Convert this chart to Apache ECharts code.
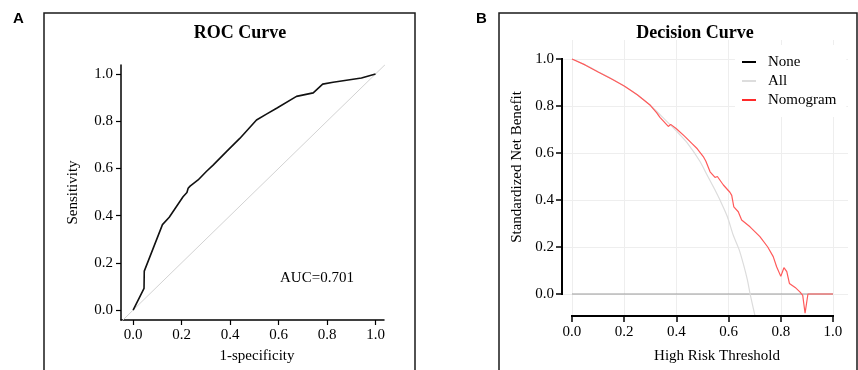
<!DOCTYPE html>
<html>
<head>
<meta charset="utf-8">
<script src="https://cdn.jsdelivr.net/npm/echarts@6/dist/echarts.min.js"></script>
<style>
  html, body { margin: 0; padding: 0; background: #fff; }
  #main { width: 858px; height: 370px; }
</style>
</head>
<body>
<div id="main"></div>
<script>
var tickValues = [0, 0.2, 0.4, 0.6, 0.8, 1.0];

// panel A - ROC
var rocFpr = [0, 0.045, 0.046, 0.121, 0.149, 0.206, 0.222, 0.227, 0.235, 0.268, 0.303, 0.33, 0.385, 0.44, 0.509, 0.55, 0.592, 0.674, 0.743, 0.782, 0.825, 0.942, 1.0];
var rocTpr = [0, 0.092, 0.165, 0.362, 0.393, 0.48, 0.498, 0.516, 0.525, 0.551, 0.588, 0.614, 0.671, 0.727, 0.805, 0.83, 0.855, 0.905, 0.92, 0.957, 0.965, 0.983, 1.0];
var diagonalRef = [-0.1, 1.1];
var aucText = 'AUC=0.701';

// panel B - decision curve
var dcaThreshold = [0, 0.05, 0.1, 0.15, 0.2, 0.25, 0.3, 0.324, 0.337, 0.369, 0.378, 0.40, 0.43, 0.46, 0.48, 0.503, 0.513, 0.529, 0.548, 0.557, 0.58, 0.605, 0.612, 0.62, 0.637, 0.65, 0.682, 0.72, 0.75, 0.771, 0.784, 0.8, 0.812, 0.823, 0.833, 0.855, 0.874, 0.884, 0.893, 0.904, 0.95, 1.0];
var dcaNomogram = [1.0, 0.975, 0.945, 0.916, 0.885, 0.848, 0.803, 0.772, 0.752, 0.713, 0.722, 0.703, 0.673, 0.64, 0.618, 0.585, 0.565, 0.52, 0.496, 0.5, 0.464, 0.433, 0.42, 0.371, 0.35, 0.315, 0.286, 0.244, 0.2, 0.159, 0.116, 0.075, 0.112, 0.095, 0.045, 0.028, 0.008, -0.006, -0.082, 0, 0, 0];
var dcaAllThreshold = [0, 0.05, 0.1, 0.15, 0.2, 0.25, 0.3, 0.34, 0.38, 0.41, 0.44, 0.49, 0.516, 0.548, 0.567, 0.595, 0.618, 0.64, 0.656, 0.672, 0.682, 0.699, 0.703];
var dcaAll = [1.0, 0.975, 0.946, 0.917, 0.885, 0.848, 0.803, 0.76, 0.716, 0.682, 0.645, 0.565, 0.51, 0.443, 0.4, 0.33, 0.25, 0.19, 0.13, 0.06, 0.003, -0.082, -0.1];
var dcaNoneThreshold = [0, 1];
var dcaNone = [0, 0];

var serif = '"Liberation Serif", "Times New Roman", serif';

function pairs(xs, ys) {
  return xs.map(function (x, i) { return [x, ys[i]]; });
}

function valueAxis(grid, min, max, extra) {
  var ax = {
    type: 'value',
    gridIndex: grid,
    min: min,
    max: max,
    axisLine: { show: true, onZero: false, lineStyle: { color: '#000', width: 1.5 } },
    axisTick: { show: true, length: 5, customValues: tickValues, lineStyle: { color: '#000', width: 1.2 } },
    axisLabel: {
      customValues: tickValues,
      formatter: function (v) { return v.toFixed(1); },
      fontFamily: serif, fontSize: 15, color: '#000', margin: 8
    },
    splitLine: { show: false },
    nameLocation: 'middle',
    nameTextStyle: { fontFamily: serif, fontSize: 15, color: '#000' }
  };
  for (var k in extra) ax[k] = extra[k];
  return ax;
}

var chart = echarts.init(document.getElementById('main'), null, { renderer: 'canvas' });

var xMinB = -0.0383, yMinB = -0.0936;

var option = {
  animation: false,
  backgroundColor: '#fff',
  textStyle: { fontFamily: serif },
  grid: [
    { left: 121, top: 65, width: 263, height: 255, outerBoundsMode: 'none' },
    { left: 562, top: 40, width: 286, height: 276, outerBoundsMode: 'none' }
  ],
  xAxis: [
    valueAxis(0, -0.05, 1.035, {
      name: '1-specificity', nameGap: 29,
      nameTextStyle: { fontFamily: serif, fontSize: 15, color: '#000', padding: [0, 0, 0, 9] }
    }),
    valueAxis(1, xMinB, 1.0575, {
      name: 'High Risk Threshold', nameGap: 33,
      nameTextStyle: { fontFamily: serif, fontSize: 15, color: '#000', padding: [0, 0, 0, 24] },
      axisLine: { show: false, onZero: false },
      axisTick: { show: true, length: 6, customValues: tickValues, lineStyle: { color: '#000', width: 1.5 } },
      axisLabel: {
        customValues: tickValues,
        formatter: function (v) { return v.toFixed(1); },
        fontFamily: serif, fontSize: 15, color: '#000', margin: 9
      },
      splitLine: { show: true, lineStyle: { color: '#eeeeee', width: 1 } }
    })
  ],
  yAxis: [
    valueAxis(0, -0.042, 1.038, {
      name: 'Sensitivity', nameGap: 40, nameRotate: 90
    }),
    valueAxis(1, yMinB, 1.081, {
      name: 'Standardized Net Benefit', nameGap: 37, nameRotate: 90,
      nameTextStyle: { fontFamily: serif, fontSize: 15, color: '#000', padding: [0, 0, 0, 22] },
      axisLine: { show: false, onZero: false },
      axisTick: { show: true, length: 6, customValues: tickValues, lineStyle: { color: '#000', width: 1.5 } },
      splitLine: { show: true, lineStyle: { color: '#eeeeee', width: 1 } }
    })
  ],
  legend: {
    data: ['None', 'All', 'Nomogram'],
    orient: 'vertical',
    left: 735, top: 45,
    padding: [9, 10, 9, 7],
    backgroundColor: '#fff',
    icon: 'rect',
    itemWidth: 14, itemHeight: 2, itemGap: 3,
    textStyle: { fontFamily: serif, fontSize: 15, color: '#000', lineHeight: 16, padding: [0, 0, 0, 7] }
  },
  series: [
    {
      name: 'diag', type: 'line', xAxisIndex: 0, yAxisIndex: 0,
      data: pairs(diagonalRef, diagonalRef), symbol: 'none', silent: true,
      lineStyle: { color: '#d2d2d2', width: 1 }, z: 1
    },
    {
      name: 'ROC', type: 'line', xAxisIndex: 0, yAxisIndex: 0,
      data: pairs(rocFpr, rocTpr), symbol: 'none',
      color: '#111', lineStyle: { color: '#111', width: 1.6 }, z: 3
    },
    {
      name: 'None', type: 'line', xAxisIndex: 1, yAxisIndex: 1,
      data: pairs(dcaNoneThreshold, dcaNone), symbol: 'none',
      color: '#000', lineStyle: { color: '#9a9a9a', width: 1 }, z: 2
    },
    {
      name: 'All', type: 'line', xAxisIndex: 1, yAxisIndex: 1,
      data: pairs(dcaAllThreshold, dcaAll), symbol: 'none', smooth: 0.3,
      color: '#dddddd', lineStyle: { color: '#dcdcdc', width: 1.2 }, z: 2
    },
    {
      name: 'Nomogram', type: 'line', xAxisIndex: 1, yAxisIndex: 1,
      data: pairs(dcaThreshold, dcaNomogram), symbol: 'none',
      color: '#ff2a2a', lineStyle: { color: '#ff5a5a', width: 1.2 }, z: 3
    }
  ]
};

chart.setOption(option);

// frames, labels, titles, and the bracket axes of panel B
var pOrigin = chart.convertToPixel({ gridIndex: 1 }, [0, 0]);
var pOne = chart.convertToPixel({ gridIndex: 1 }, [1, 1]);
var pMin = chart.convertToPixel({ gridIndex: 1 }, [xMinB, yMinB]);

function txt(x, y, s, font, align) {
  return {
    type: 'text', x: x, y: y, silent: true,
    style: { text: s, font: font, fill: '#000', textAlign: align || 'center', textVerticalAlign: 'middle', align: align || 'center', verticalAlign: 'middle' }
  };
}

chart.setOption({
  graphic: [
    { type: 'rect', silent: true, shape: { x: 44, y: 13, width: 371, height: 400 }, style: { fill: null, stroke: '#1a1a1a', lineWidth: 1.5 } },
    { type: 'rect', silent: true, shape: { x: 499, y: 13, width: 358, height: 400 }, style: { fill: null, stroke: '#1a1a1a', lineWidth: 1.5 } },
    txt(18.5, 18.5, 'A', 'bold 15px "Liberation Sans", Arial, sans-serif'),
    txt(481.5, 18.5, 'B', 'bold 15px "Liberation Sans", Arial, sans-serif'),
    txt(240, 33, 'ROC Curve', 'bold 18px ' + serif),
    txt(695, 33, 'Decision Curve', 'bold 18px ' + serif),
    txt(280, 278, aucText, '15px ' + serif, 'left'),
    {
      type: 'polyline', silent: true, z: 10,
      shape: { points: [[pOrigin[0], pMin[1]], [pOne[0], pMin[1]]] },
      style: { stroke: '#000', lineWidth: 2, fill: null, lineCap: 'square' }
    },
    {
      type: 'polyline', silent: true, z: 10,
      shape: { points: [[pMin[0], pOrigin[1]], [pMin[0], pOne[1]]] },
      style: { stroke: '#000', lineWidth: 2, fill: null, lineCap: 'square' }
    }
  ]
});
</script>
</body>
</html>
